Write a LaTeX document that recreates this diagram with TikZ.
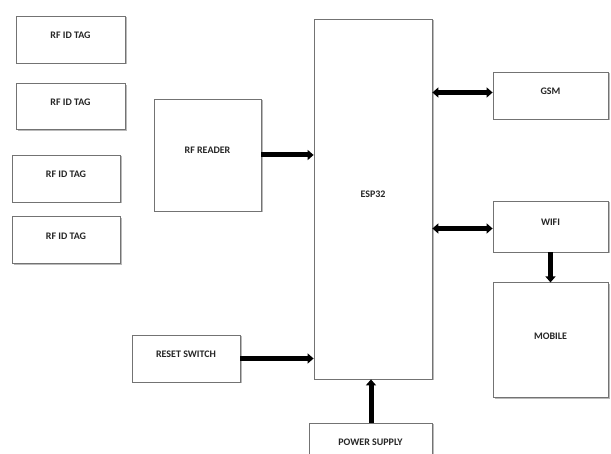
\documentclass[tikz,border=0pt]{standalone}
\usepackage{fontspec}
\setmainfont{Carlito}
\usetikzlibrary{positioning, calc, shadows, arrows.meta}

\begin{document}
\begin{tikzpicture}[x=1pt, y=-1pt, node distance=20pt,
        block/.style={rectangle, draw=black!55, fill=white, line width=0.8pt,
                drop shadow={shadow xshift=1.5pt, shadow yshift=-1.5pt, fill=black!45, opacity=0.6},
                font=\bfseries\fontsize{10}{12}\selectfont, text=black!85, text depth=9pt, inner sep=0pt},
        bigarrow/.style={line width=5pt, -{Triangle[length=6pt, width=10pt]}},
        bothway/.style={line width=5pt, {Triangle[length=6pt, width=10pt]}-{Triangle[length=6pt, width=10pt]}}]
        \useasboundingbox (0,0) rectangle (611,454);

        % tags on the left
        \node[block, minimum width=109pt, minimum height=47pt] (tag1) at (70.5,39.5) {RF ID TAG};
        \node[block, minimum width=109pt, minimum height=46pt] (tag2) [below=20pt of tag1] {RF ID TAG};
        \node[block, minimum width=108pt, minimum height=47pt] (tag3) at (66,178.5) {RF ID TAG};
        \node[block, minimum width=108pt, minimum height=47pt] (tag4) [below=14pt of tag3] {RF ID TAG};

        % controller and blocks around it
        \node[block, minimum width=118pt, minimum height=360pt] (esp) at (373,199) {ESP32};
        \node[block, minimum width=107pt, minimum height=112pt] (reader) at (207.5,155) {RF READER};
        \node[block, minimum width=108pt, minimum height=47pt] (reset) at (186,358.5) {RESET SWITCH};
        \node[block, minimum width=123pt, minimum height=47pt] (power) at (370.5,446.5) {POWER SUPPLY};
        \node[block, minimum width=115pt, minimum height=47pt] (gsm) at (550.5,95.5) {GSM};
        \node[block, minimum width=115pt, minimum height=51pt] (wifi) at (550.5,226.5) {WIFI};
        \node[block, minimum width=115pt, minimum height=115pt] (mobile) [below=30pt of wifi] {MOBILE};

        \draw[bigarrow] (reader.east) -- (reader.east -| esp.west);
        \draw[bigarrow] (reset.east) -- (reset.east -| esp.west);
        \draw[bigarrow] (power.north -| 371,0) -- (esp.south -| 371,0);
        \draw[bothway] ($(gsm.west -| esp.east)+(0,-3)$) -- ($(gsm.west)+(0,-3)$);
        \draw[bothway] ($(wifi.west -| esp.east)+(0,2)$) -- ($(wifi.west)+(0,2)$);
        \draw[bigarrow] (wifi.south) -- (mobile.north);
\end{tikzpicture}
\end{document}
